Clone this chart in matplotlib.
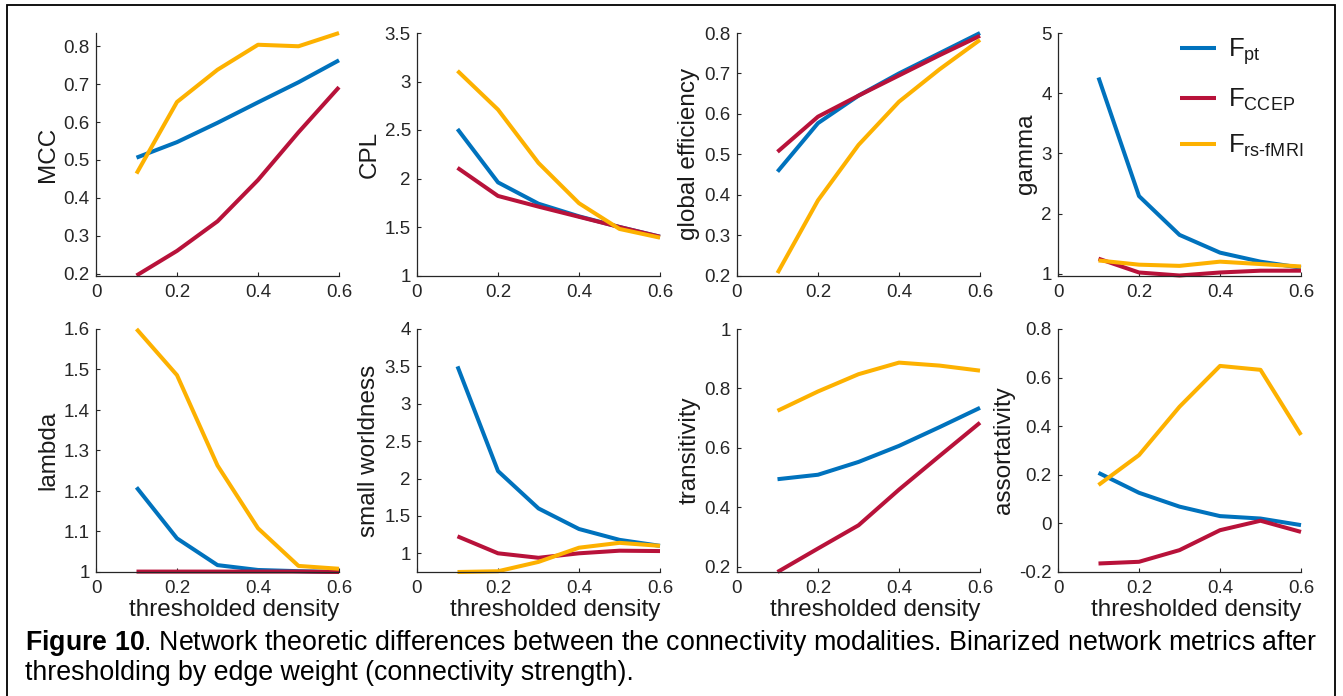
import matplotlib
matplotlib.use('Agg')
import matplotlib.pyplot as plt
from matplotlib.ticker import FuncFormatter, FixedLocator
from matplotlib.patches import Rectangle

plt.rcParams['font.family'] = ['Liberation Sans', 'DejaVu Sans']
plt.rcParams['mathtext.fontset'] = 'custom'
plt.rcParams['mathtext.rm'] = 'Liberation Sans'
plt.rcParams['mathtext.bf'] = 'Liberation Sans:bold'
plt.rcParams['mathtext.it'] = 'Liberation Sans:italic'
plt.rcParams['mathtext.default'] = 'regular'

# ---------------- data ----------------
density = [0.1, 0.2, 0.3, 0.4, 0.5, 0.6]
series_labels = [r'F$_{\mathrm{pt}}$', r'F$_{\mathrm{CCEP}}$', r'F$_{\text{rs-fMRI}}$']
series_colors = ['#0072BD', '#B8123A', '#FDB100']

metric_names = ['MCC', 'CPL', 'global efficiency', 'gamma',
                'lambda', 'small worldness', 'transitivity', 'assortativity']

mcc_pt = [0.506, 0.547, 0.598, 0.652, 0.705, 0.763]
mcc_ccep = [0.195, 0.260, 0.338, 0.447, 0.573, 0.692]
mcc_rs = [0.464, 0.653, 0.738, 0.804, 0.800, 0.835]

cpl_pt = [2.51, 1.96, 1.74, 1.61, 1.50, 1.40]
cpl_ccep = [2.11, 1.82, 1.71, 1.605, 1.50, 1.40]
cpl_rs = [3.11, 2.71, 2.16, 1.745, 1.48, 1.39]

geff_pt = [0.457, 0.577, 0.645, 0.700, 0.750, 0.800]
geff_ccep = [0.506, 0.593, 0.645, 0.695, 0.745, 0.793]
geff_rs = [0.206, 0.386, 0.523, 0.630, 0.710, 0.783]

gamma_pt = [4.26, 2.29, 1.645, 1.35, 1.20, 1.10]
gamma_ccep = [1.25, 1.02, 0.97, 1.02, 1.05, 1.05]
gamma_rs = [1.22, 1.15, 1.13, 1.20, 1.16, 1.12]

lambda_pt = [1.209, 1.083, 1.017, 1.005, 1.002, 1.000]
lambda_ccep = [1.001, 1.001, 1.001, 1.001, 1.001, 1.000]
lambda_rs = [1.600, 1.486, 1.263, 1.108, 1.015, 1.008]

sw_pt = [3.50, 2.10, 1.60, 1.325, 1.18, 1.10]
sw_ccep = [1.227, 1.00, 0.94, 1.00, 1.035, 1.03]
sw_rs = [0.75, 0.76, 0.885, 1.075, 1.14, 1.10]

trans_pt = [0.495, 0.510, 0.553, 0.607, 0.670, 0.735]
trans_ccep = [0.183, 0.262, 0.340, 0.460, 0.573, 0.685]
trans_rs = [0.725, 0.790, 0.848, 0.887, 0.877, 0.860]

assort_pt = [0.208, 0.126, 0.069, 0.030, 0.020, -0.007]
assort_ccep = [-0.165, -0.158, -0.110, -0.028, 0.011, -0.035]
assort_rs = [0.158, 0.281, 0.480, 0.648, 0.632, 0.364]

metric_values = [
    [mcc_pt, mcc_ccep, mcc_rs],
    [cpl_pt, cpl_ccep, cpl_rs],
    [geff_pt, geff_ccep, geff_rs],
    [gamma_pt, gamma_ccep, gamma_rs],
    [lambda_pt, lambda_ccep, lambda_rs],
    [sw_pt, sw_ccep, sw_rs],
    [trans_pt, trans_ccep, trans_rs],
    [assort_pt, assort_ccep, assort_rs],
]

ylims = [(0.195, 0.835), (1, 3.5), (0.2, 0.8), (0.97, 5),
         (1, 1.6), (0.75, 4), (0.183, 1), (-0.2, 0.8)]
yticks = [
    [0.2, 0.3, 0.4, 0.5, 0.6, 0.7, 0.8],
    [1, 1.5, 2, 2.5, 3, 3.5],
    [0.2, 0.3, 0.4, 0.5, 0.6, 0.7, 0.8],
    [1, 2, 3, 4, 5],
    [1, 1.1, 1.2, 1.3, 1.4, 1.5, 1.6],
    [1, 1.5, 2, 2.5, 3, 3.5, 4],
    [0.2, 0.4, 0.6, 0.8, 1],
    [-0.2, 0, 0.2, 0.4, 0.6, 0.8],
]
xticks = [0, 0.2, 0.4, 0.6]
xlabel_text = 'thresholded density'

caption_line1 = r'$\mathbf{Figure\ 10}$. Network theoretic differences between the connectivity modalities. Binarized network metrics after'
caption_line2 = 'thresholding by edge weight (connectivity strength).'

# ---------------- layout ----------------
W, H = 1343, 696
fig = plt.figure(figsize=(W / 100, H / 100), dpi=100)

lefts_px = [96, 417, 737, 1058]
rows_px = [(33, 275.5), (329, 572)]
width_px = 243

axis_color = '#262626'
fmt = FuncFormatter(lambda v, pos: '%g' % round(v, 6))

axes = []
for i in range(8):
    r, c = divmod(i, 4)
    top, bot = rows_px[r]
    ax = fig.add_axes([lefts_px[c] / W, (H - bot) / H, width_px / W, (bot - top) / H])
    axes.append(ax)
    for s, vals in enumerate(metric_values[i]):
        ax.plot(density, vals, color=series_colors[s], lw=2.9,
                solid_capstyle='butt', clip_on=False, label=series_labels[s])
    ax.set_xlim(0, 0.6)
    ax.set_ylim(*ylims[i])
    ax.xaxis.set_major_locator(FixedLocator(xticks))
    ax.yaxis.set_major_locator(FixedLocator(yticks[i]))
    ax.xaxis.set_major_formatter(fmt)
    ax.yaxis.set_major_formatter(fmt)
    for sp in ['top', 'right']:
        ax.spines[sp].set_visible(False)
    for sp in ['left', 'bottom']:
        ax.spines[sp].set_color(axis_color)
        ax.spines[sp].set_linewidth(0.9)
    ax.tick_params(direction='in', length=2.8, width=0.8, color=axis_color,
                   labelcolor=axis_color, labelsize=13.5)
    ax.tick_params(axis='x', pad=6)
    ax.tick_params(axis='y', pad=4.5)
    ax.set_ylabel(metric_names[i], fontsize=17.5, color='#1a1a1a', labelpad=3)
    if r == 1:
        ax.set_xlabel(xlabel_text, fontsize=17.5, color='#1a1a1a', loc='right', labelpad=1)
    ax.patch.set_alpha(0)

leg = axes[3].legend(loc='upper left', bbox_to_anchor=((1180 - 1058) / 243, 0.985),
                     frameon=False, fontsize=18.5, handlelength=1.4, handletextpad=0.45,
                     labelspacing=0.76, borderaxespad=0, borderpad=0)
for t in leg.get_texts():
    t.set_color('#1a1a1a')

# caption
fig.text(25 / W, (H - 650) / H, caption_line1, fontsize=19.3, va='baseline', ha='left', color='black')
fig.text(25 / W, (H - 680) / H, caption_line2, fontsize=19.3, va='baseline', ha='left', color='black')

# outer border
fig.patches.append(Rectangle((7 / W, -0.02), (1335 - 7) / W, 1.02 - 5 / H,
                             transform=fig.transFigure, fill=False,
                             edgecolor='black', linewidth=1.3))

fig.savefig('out.png', dpi=100)
